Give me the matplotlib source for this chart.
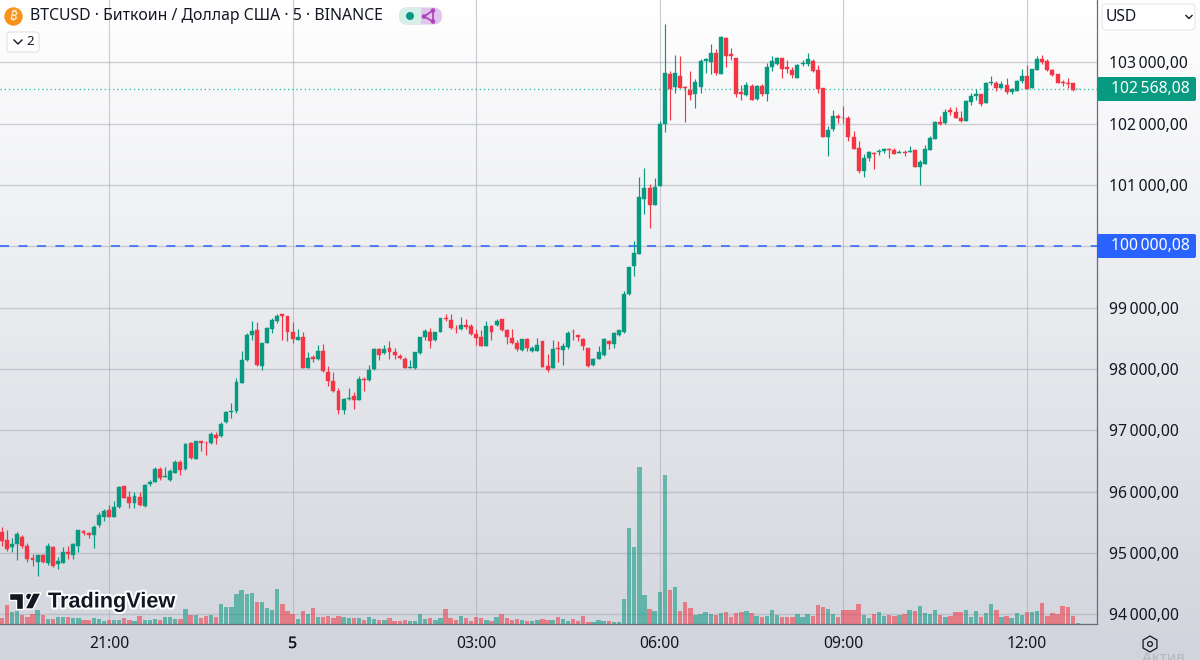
import numpy as np
import matplotlib
matplotlib.use("Agg")
import matplotlib.pyplot as plt
import matplotlib.patheffects as pe
from matplotlib.patches import Circle, FancyBboxPatch, Polygon, RegularPolygon, Rectangle

plt.rcParams["font.family"] = ["Noto Sans", "DejaVu Sans"]

# open, high, low, close of 5 minute candles
opens = [95340,95220,95090,95140,95260,95110,94920,94850,94970,94840,95100,94820,94840,95020,94970,95120,95360,95330,95300,95450,
         95580,95700,95580,95750,96090,95910,95810,95920,95760,96130,96150,96370,96240,96190,96310,96480,96370,96790,96540,96820,
         96800,96790,96930,96900,97130,97300,97320,97770,98140,98560,98640,98050,98420,98660,98780,98890,98860,98610,98480,98520,
         98020,98200,98160,98300,97960,97810,97640,97340,97510,97560,97490,97830,97820,98000,98320,98260,98340,98280,98220,98170,
         98020,98010,98260,98520,98600,98470,98610,98830,98800,98660,98660,98720,98700,98570,98530,98370,98700,98720,98810,98630,
         98500,98430,98310,98490,98290,98300,98450,98050,98020,98340,98310,98360,98610,98550,98490,98340,98070,98170,98230,98460,
         98410,98550,98600,99230,99680,99880,100770,100960,100680,100990,101990,102810,102600,102780,102600,102550,102490,102600,103030,103000,
         103150,102820,103400,103140,103070,102520,102470,102620,102400,102620,102490,102920,102970,103080,102920,102870,102750,102980,102980,103030,
         102870,102580,101780,101920,102120,102100,102090,101780,101600,101230,101440,101530,101540,101550,101590,101570,101520,101540,101540,101570,
         101300,101350,101580,101760,102030,102010,102220,102200,102090,102050,102350,102460,102480,102340,102670,102670,102590,102640,102520,102530,
         102690,102780,102590,102880,103050,103020,102880,102810,102680,102660,102660,102560]
highs = [95430,95380,95240,95350,95300,95160,94990,94970,94990,95170,95110,94930,95100,95120,95160,95380,95380,95340,95460,95670,
         95720,95790,95840,96100,96100,96010,96000,96000,96130,96190,96400,96400,96410,96370,96520,96520,96790,96810,96830,96830,
         96820,96980,96970,97130,97320,97440,97850,98290,98590,98780,98760,98430,98680,98830,98900,98900,98870,98760,98650,98600,
         98280,98230,98390,98410,98050,97960,97690,97520,97690,97630,97890,97870,98060,98340,98350,98400,98450,98340,98240,98190,
         98150,98280,98530,98660,98670,98610,98840,98890,98900,98720,98850,98820,98740,98660,98630,98790,98720,98820,98820,98660,
         98660,98480,98490,98500,98370,98500,98450,98250,98470,98450,98420,98620,98650,98560,98500,98350,98180,98370,98500,98470,
         98600,98640,99270,99670,100090,101140,101280,101020,101120,102040,103620,102860,103120,103100,102610,102860,102730,103060,103080,103300,
         103220,103430,103410,103240,103080,102630,102680,102650,102640,102650,102990,103110,103090,103080,103040,102920,102980,103040,103150,103060,
         102960,102580,101970,102230,102160,102290,102120,101880,101720,101510,101550,101540,101590,101610,101600,101610,101580,101580,101640,101580,
         101410,101650,101800,102040,102120,102240,102280,102280,102210,102380,102500,102560,102490,102680,102780,102700,102700,102750,102580,102720,
         102890,102960,102890,103110,103120,103060,102900,102820,102710,102750,102670,102570]
lows = [95120,95040,95010,94880,95080,94860,94790,94620,94840,94810,94770,94740,94840,94900,94910,95010,95290,95240,95080,95430,
        95520,95580,95580,95740,95890,95730,95730,95760,95750,96090,96150,96190,96240,96180,96310,96280,96360,96540,96540,96670,
        96600,96780,96780,96890,97120,97200,97290,97770,98130,98480,98050,97980,98420,98580,98750,98470,98450,98430,98470,98010,
        98020,98110,98150,97960,97730,97630,97260,97270,97500,97350,97490,97650,97810,97990,98140,98250,98160,98170,98160,98020,
        98010,98000,98250,98480,98350,98460,98610,98790,98660,98590,98630,98660,98560,98400,98370,98370,98480,98700,98620,98410,
        98410,98300,98300,98290,98270,98300,98040,97960,98020,98110,98070,98330,98480,98450,98310,98040,98050,98170,98210,98330,
        98350,98540,98590,99200,99520,99870,100530,100300,100680,100990,101860,102070,102510,102580,102030,102390,102250,102510,102830,102820,
        102790,102820,102930,103040,102430,102390,102450,102380,102380,102450,102370,102860,102960,102740,102830,102740,102740,102940,102940,102850,
        102510,101780,101470,101880,102010,102010,101720,101590,101200,101130,101400,101260,101490,101530,101450,101500,101520,101470,101540,101290,
        101000,101350,101570,101750,101980,102000,102140,102090,102030,102040,102300,102380,102290,102340,102630,102530,102580,102480,102490,102530,
        102660,102560,102590,102880,102970,102860,102780,102670,102620,102590,102540,102560]
closes = [95190,95070,95150,95310,95120,94910,94890,94960,94850,95120,94790,94870,95020,94980,95140,95370,95320,95290,95430,95620,
          95690,95580,95750,96080,95900,95810,95930,95780,96110,96150,96370,96230,96250,96340,96480,96360,96780,96550,96820,96790,
          96790,96940,96880,97110,97300,97320,97790,98140,98560,98620,98060,98420,98670,98800,98870,98870,98600,98490,98520,98020,
          98180,98160,98300,97970,97810,97640,97330,97510,97520,97490,97830,97820,97990,98330,98230,98320,98280,98230,98180,98020,
          98040,98270,98520,98620,98460,98610,98830,98820,98670,98650,98720,98690,98570,98500,98370,98700,98610,98780,98630,98530,
          98420,98330,98490,98350,98350,98390,98040,97990,98330,98330,98370,98590,98600,98520,98370,98050,98170,98270,98490,98410,
          98590,98630,99230,99670,99890,100800,100960,100680,100970,102000,102830,102560,102830,102580,102580,102470,102680,103030,103050,103150,
          102830,103420,103110,103100,102490,102480,102630,102390,102620,102490,102930,103020,103080,102900,102900,102790,102960,102990,103050,102860,
          102560,101780,101900,102120,102100,102090,101790,101590,101230,101450,101540,101510,101550,101590,101580,101510,101540,101530,101560,101300,
          101380,101590,101770,102030,102000,102200,102190,102090,102040,102370,102460,102480,102330,102670,102680,102590,102650,102520,102560,102700,
          102780,102570,102890,103050,103000,102870,102800,102670,102670,102650,102550,102570]
# volume, same bars, traded amount (scale of the lower pane)
volumes = [60,190,120,130,90,70,100,140,90,50,50,70,70,70,60,60,40,40,60,50,
           30,40,40,40,60,40,30,80,40,40,50,40,70,70,50,50,150,90,90,60,
           80,90,70,200,170,170,300,340,300,310,220,220,160,140,350,200,130,100,50,130,
           100,160,70,70,80,60,80,70,60,60,60,40,70,50,40,40,60,30,30,40,
           30,30,100,50,60,40,60,150,60,40,80,60,30,70,60,40,30,70,100,60,
           40,50,40,30,30,40,50,40,40,70,50,30,50,30,80,20,20,40,30,30,
           20,20,250,960,770,1570,290,150,130,320,1490,340,370,130,220,160,90,100,120,100,
           90,110,120,70,110,120,130,110,80,70,80,140,90,70,70,70,100,70,100,80,
           190,170,150,100,70,140,140,140,200,90,60,100,120,80,90,80,90,100,140,130,
           180,110,100,140,90,70,80,120,120,140,70,130,70,110,200,140,70,80,60,110,
           90,120,120,130,210,80,110,100,180,170,80,10]

price_ticks = [94000,95000,96000,97000,98000,99000,100000,101000,102000,103000]
price_labels = ["94\u2009000,00","95\u2009000,00","96\u2009000,00","97\u2009000,00","98\u2009000,00",
                "99\u2009000,00","100\u2009000,00","101\u2009000,00","102\u2009000,00","103\u2009000,00"]
time_ticks = [21,57,93,129,165,201]
time_labels = ["21:00","5","03:00","06:00","09:00","12:00"]
last_price = 102568.08
alert_price = 100000.08

GREEN = "#089981"
RED = "#f23645"
BLUE = "#2962ff"
INK = "#131722"

fig = plt.figure(figsize=(12, 6.6), dpi=100)

# vertical gradient behind everything
bg = fig.add_axes([0, 0, 1, 1], zorder=0)
top_col = np.array([255, 255, 255]) / 255
bot_col = np.array([209, 212, 220]) / 255
ramp = np.linspace(0, 1, 256)[:, None, None]
bg.imshow(top_col + (bot_col - top_col) * ramp, aspect="auto", extent=[0, 1, 0, 1])
bg.axis("off")

# price pane
pane = [0, (660 - 624.3) / 660, 1097 / 1200, 624.3 / 660]
ax = fig.add_axes(pane, zorder=1)
ax.patch.set_visible(False)
ax.set_xlim(-0.373, 214.73)
ax.set_ylim(93837, 104019)
ax.yaxis.tick_right()
ax.set_yticks(price_ticks, labels=price_labels)
ax.set_xticks(time_ticks, labels=time_labels)
ax.tick_params(axis="y", length=0, pad=8.4, labelsize=11.3, labelcolor=INK)
ax.tick_params(axis="x", length=0, pad=8.4, labelsize=11.3, labelcolor=INK)
ax.get_xticklabels()[1].set_path_effects([pe.withStroke(linewidth=0.2, foreground=INK)])
ax.grid(axis="y", color="#a9acb5", lw=1.0, alpha=0.55)
ax.grid(axis="x", color="#a9acb5", lw=0.8, alpha=0.6)
ax.set_axisbelow(True)
for side in ["top", "left"]:
    ax.spines[side].set_visible(False)
for side in ["right", "bottom"]:
    ax.spines[side].set_color("#6a6d78")
    ax.spines[side].set_linewidth(0.9)

idx = np.arange(len(opens))
o, h, l, c = map(np.array, (opens, highs, lows, closes))
cols = [GREEN if b >= a else RED for a, b in zip(o, c)]
ax.vlines(idx, l, h, colors=cols, lw=0.85, zorder=3)
ax.bar(idx, np.abs(c - o), bottom=np.minimum(o, c), width=0.78, color=cols,
       edgecolor=cols, lw=0.3, zorder=4)

ax.axhline(last_price, color="#3fc0a8", lw=1.0, ls=(0, (1.0, 2.0)), zorder=2)
ax.axhline(alert_price, color=BLUE, lw=1.1, ls=(0, (5.9, 6.2)), zorder=2)

# volume bars on their own scale
vol = fig.add_axes(pane, zorder=2)
vol.patch.set_visible(False)
vol.set_xlim(ax.get_xlim())
vol.set_ylim(0, 6243)
vol.axis("off")
vol.bar(idx, volumes, width=0.86, color=cols, alpha=0.56, lw=0)

# header, badges and logo drawn in pixel positions
ui = fig.add_axes([0, 0, 1, 1], zorder=5)
ui.set_xlim(0, 1200)
ui.set_ylim(660, 0)
ui.axis("off")
ui.patch.set_visible(False)

ui.add_patch(Circle((13.5, 16.5), 9.2, color="#f7931a", lw=0))
ui.text(13.5, 16.5, "\u20bf", color="white", fontsize=9, fontweight="bold", rotation=-12,
        ha="center", va="center", family=["Noto Sans", "Roboto", "Open Sans", "Lato", "Inter", "Liberation Sans", "DejaVu Sans"])
ui.text(30, 16.5, "BTCUSD \u00b7 Биткоин / Доллар США \u00b7 5 \u00b7 BINANCE", color=INK,
        fontsize=11.4, ha="left", va="center")

# status pill
pill = FancyBboxPatch((399, 7.5), 43, 17, boxstyle="round,pad=0,rounding_size=8.5",
                      fc="#e3c4ec", ec="none")
ui.add_patch(pill)
left_half = Rectangle((399, 7), 22, 18, fc="#d6efe9", ec="none")
ui.add_patch(left_half)
left_half.set_clip_path(pill)
ui.add_patch(Circle((410, 16), 4, color=GREEN, lw=0))
ui.add_patch(Polygon([(424, 16.5), (433, 10.5), (433, 21.5)], closed=True, fc="none", ec="#ab47bc", lw=1.3))
ui.add_patch(Circle((424, 16.5), 2.3, color="#ab47bc", lw=0))
ui.add_patch(Circle((433, 10.5), 2.3, color="#ab47bc", lw=0))
ui.add_patch(Circle((433, 21.5), 2.3, color="#ab47bc", lw=0))

# legend toggle
ui.add_patch(FancyBboxPatch((7, 32), 32, 20, boxstyle="round,pad=0,rounding_size=3",
                            fc="white", ec="#dfe1e7", lw=0.8))
ui.plot([14, 18, 22], [40, 44, 40], color=INK, lw=1)
ui.text(30.5, 41.5, "2", color=INK, fontsize=9.5, ha="center", va="center")

# currency box
ui.add_patch(FancyBboxPatch((1102, 4), 93, 26, boxstyle="round,pad=0,rounding_size=4",
                            fc="white", ec="#e6e8ee", lw=0.8))
ui.text(1106, 17, "USD", color=INK, fontsize=11.3, ha="left", va="center")
ui.plot([1186, 1189, 1192], [15.5, 18.5, 15.5], color=INK, lw=1)

# price tags
ui.add_patch(FancyBboxPatch((1097, 77), 99, 24, boxstyle="round,pad=0,rounding_size=2",
                            fc=GREEN, ec="none"))
ui.text(1150, 89, "102\u2009568,08", color="white", fontsize=11.3, ha="center", va="center")
ui.add_patch(FancyBboxPatch((1097, 234), 99, 24, boxstyle="round,pad=0,rounding_size=2",
                            fc=BLUE, ec="none"))
ui.text(1150, 246, "100\u2009000,08", color="white", fontsize=11.3, ha="center", va="center")

# settings icon
ui.add_patch(RegularPolygon((1150, 644), 6, radius=8, fc="none", ec=INK, lw=0.9))
ui.add_patch(Circle((1150, 644), 2.4, fc="none", ec=INK, lw=0.9))

# watermark text cut by the bottom edge
ui.text(1142, 651, "Актив", color="#b6b8be", fontsize=11, ha="left", va="top")

# logo
ui.add_patch(Polygon([(9, 593), (23, 593), (23, 609), (16, 609), (16, 600), (9, 600)], closed=True,
                     fc=INK, ec="white", lw=1))
ui.add_patch(Circle((29, 596.5), 3.4, fc=INK, ec="white", lw=0.8))
ui.add_patch(Polygon([(33, 593), (41, 593), (33, 609), (25, 609)], closed=True, fc=INK, ec="white", lw=1))
txt = ui.text(48, 602, "TradingView", color=INK, fontsize=15.6, fontweight="bold", ha="left", va="center",
              family="Liberation Sans")
txt.set_path_effects([pe.withStroke(linewidth=3, foreground="white")])

fig.savefig("out.png", dpi=100)
